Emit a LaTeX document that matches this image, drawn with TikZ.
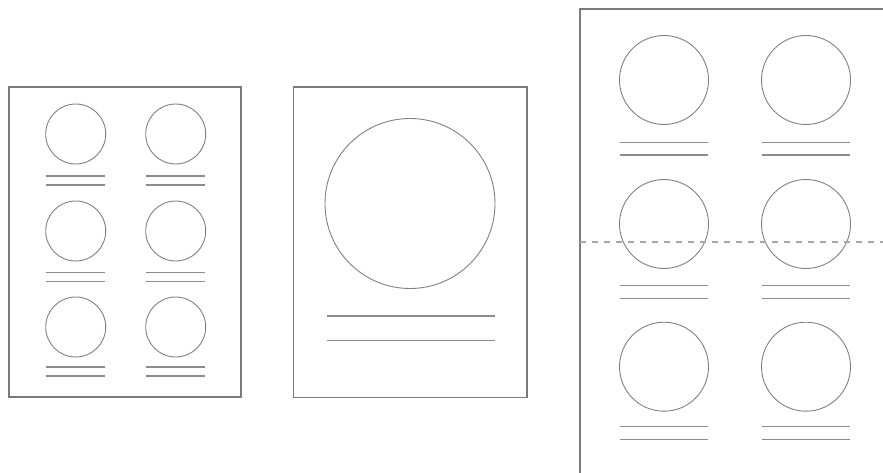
\documentclass[tikz,border=0pt]{standalone}
\begin{document}
\begin{tikzpicture}[x=1pt,y=-1pt,
  page/.style={draw=black!52, line width=1.4pt},
  disc/.style={draw=black!50, line width=0.9pt},
  txt/.style={draw=black!45, line width=1.5pt},
  cut/.style={draw=black!35, line width=1.8pt, dash pattern=on 6pt off 6pt}]
\useasboundingbox (0,0) rectangle (883,473);
\clip (0,0) rectangle (883,473);
% left page
\draw[page] (9,87) rectangle (241,397);
\foreach \cx in {75.7,175.7}{
  \foreach \cy/\la/\lb in {134/176/185, 231/272.5/281.3, 327/366.8/375.8}{
    \draw[disc] (\cx,\cy) circle (30);
    \draw[txt] (\cx-30,\la) -- (\cx+29,\la);
    \draw[txt] (\cx-30,\lb) -- (\cx+29,\lb);
  }
}
% middle page
\draw[page] (293.5,87) rectangle (527,397.5);
\draw[disc] (410,203.5) circle (85);
\draw[txt] (327,316) -- (495,316);
\draw[txt] (327,340.5) -- (495,340.5);
% right page
\draw[page] (580,9) rectangle (900,490);
\foreach \cx in {664,806}{
  \foreach \cy/\la/\lb in {80/142.7/155, 224/285.7/298.3, 366.7/426.7/439.3}{
    \draw[disc] (\cx,\cy) circle (44.5);
    \draw[txt] (\cx-44,\la) -- (\cx+44,\la);
    \draw[txt] (\cx-44,\lb) -- (\cx+44,\lb);
  }
}
\coordinate (cutL) at (580,242.3);
\coordinate (cutR) at (883,242.3);
\draw[cut] (cutL) -- (cutR);
\end{tikzpicture}
\end{document}
